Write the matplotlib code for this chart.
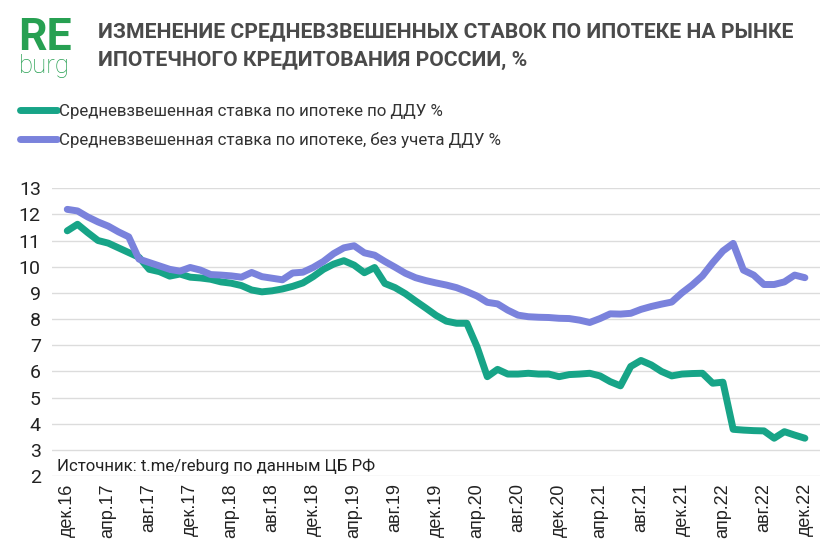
import matplotlib
matplotlib.use('Agg')
import matplotlib.pyplot as plt
import numpy as np

# Monthly data, dec.16 .. dec.22 (73 months)
rate_ddu = [11.37, 11.62, 11.3, 11.0, 10.9, 10.72, 10.54, 10.36, 9.9, 9.81,
            9.64, 9.72, 9.6, 9.57, 9.52, 9.42, 9.37, 9.28, 9.11, 9.04,
            9.08, 9.15, 9.25, 9.38, 9.62, 9.9, 10.1, 10.23, 10.06, 9.77,
            9.97, 9.36, 9.2, 8.97, 8.69, 8.42, 8.14, 7.92, 7.84, 7.84,
            6.94, 5.8, 6.08, 5.9, 5.9, 5.93, 5.9, 5.9, 5.8, 5.88,
            5.9, 5.93, 5.83, 5.61, 5.45, 6.19, 6.42, 6.25, 6.0, 5.83,
            5.9, 5.92, 5.93, 5.55, 5.59, 3.79, 3.76, 3.74, 3.73, 3.45,
            3.7, 3.57, 3.45]
rate_no_ddu = [12.19, 12.13, 11.9, 11.71, 11.55, 11.33, 11.14, 10.29, 10.16, 10.03,
               9.9, 9.83, 9.97, 9.87, 9.7, 9.68, 9.65, 9.6, 9.78, 9.62,
               9.56, 9.5, 9.76, 9.79, 9.97, 10.2, 10.5, 10.72, 10.8, 10.53,
               10.44, 10.2, 9.98, 9.75, 9.58, 9.47, 9.38, 9.3, 9.2, 9.05,
               8.88, 8.64, 8.58, 8.34, 8.15, 8.09, 8.07, 8.06, 8.03, 8.02,
               7.96, 7.87, 8.02, 8.2, 8.19, 8.22, 8.37, 8.48, 8.57, 8.65,
               9.0, 9.3, 9.65, 10.15, 10.6, 10.89, 9.87, 9.68, 9.32, 9.32,
               9.42, 9.68, 9.58]
tick_labels = ['дек.16', 'апр.17', 'авг.17', 'дек.17', 'апр.18', 'авг.18', 'дек.18',
               'апр.19', 'авг.19', 'дек.19', 'апр.20', 'авг.20', 'дек.20', 'апр.21',
               'авг.21', 'дек.21', 'апр.22', 'авг.22', 'дек.22']

green = '#17a487'
blue = '#7a82dc'
logo_green = '#27a052'

fig = plt.figure(figsize=(8.37, 5.55), dpi=100)
ax = fig.add_axes([0.062, 0.142, 0.918, 0.519])

x = np.arange(len(rate_ddu))
ax.plot(x, rate_ddu, color=green, lw=5, solid_capstyle='round', solid_joinstyle='round',
        label='Средневзвешенная ставка по ипотеке по ДДУ %')
ax.plot(x, rate_no_ddu, color=blue, lw=5, solid_capstyle='round', solid_joinstyle='round',
        label='Средневзвешенная ставка по ипотеке, без учета ДДУ %')

ax.set_xlim(-1.5, 73.5)
ax.set_ylim(2, 13)
ax.set_yticks(range(2, 14))
ax.set_xticks(x[::4])
ax.set_xticklabels(tick_labels, rotation=90, fontsize=13, family='Liberation Sans', color='#222222')
for lab in ax.get_yticklabels():
    lab.set_family('Roboto')
    lab.set_fontsize(14)
    lab.set_color('#222222')
ax.tick_params(axis='y', length=0, pad=8)
ax.tick_params(axis='x', length=0, pad=5)
ax.grid(axis='y', color='#dcdcdc', lw=1)
ax.set_axisbelow(True)
for s in ax.spines.values():
    s.set_visible(False)

ax.text(0.006, 0.035, 'Источник: t.me/reburg по данным ЦБ РФ', transform=ax.transAxes,
        fontsize=12.1, family='Roboto', color='#222222', va='center')

leg = ax.legend(loc='upper left', bbox_to_anchor=(0.024, 0.812), bbox_transform=fig.transFigure,
                frameon=False, fontsize=12.2, handlelength=2.2, handletextpad=0.1,
                labelspacing=0.75, borderaxespad=0, borderpad=0)
for t in leg.get_texts():
    t.set_color('#333333')
    t.set_family('Roboto')

# header
fig.text(0.022, 0.91, 'RE', fontsize=32, fontweight='bold', color=logo_green, family='Roboto')
fig.text(0.023, 0.868, 'burg', fontsize=18.5, fontweight='light', color=logo_green, family='Roboto')
fig.text(0.117, 0.932, 'ИЗМЕНЕНИЕ СРЕДНЕВЗВЕШЕННЫХ СТАВОК ПО ИПОТЕКЕ НА РЫНКЕ',
         fontsize=15.2, fontweight='bold', color='#4a4a4a', family='Roboto')
fig.text(0.117, 0.881, 'ИПОТЕЧНОГО КРЕДИТОВАНИЯ РОССИИ, %',
         fontsize=15.2, fontweight='bold', color='#4a4a4a', family='Roboto')

fig.savefig('out.png', dpi=100)
